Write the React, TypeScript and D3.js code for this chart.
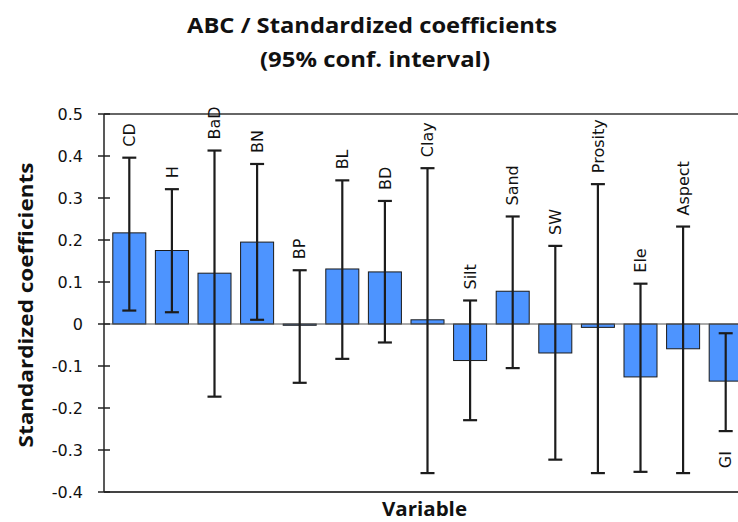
import React from "react";
import * as d3 from "d3";

// variables of the regression
const categories = ["CD", "H", "BaD", "BN", "BP", "BL", "BD", "Clay", "Silt", "Sand", "SW", "Prosity", "Ele", "Aspect", "GI"];
// standardized coefficients
const coefficients = [0.217, 0.175, 0.121, 0.195, -0.003, 0.131, 0.124, 0.01, -0.087, 0.078, -0.069, -0.008, -0.126, -0.059, -0.136];
// 95% confidence interval
const lowerBounds = [0.032, 0.028, -0.173, 0.01, -0.14, -0.083, -0.044, -0.355, -0.229, -0.105, -0.323, -0.355, -0.352, -0.355, -0.255];
const upperBounds = [0.396, 0.321, 0.413, 0.381, 0.128, 0.342, 0.293, 0.371, 0.056, 0.256, 0.186, 0.333, 0.096, 0.232, -0.022];
const yTicks = [0.5, 0.4, 0.3, 0.2, 0.1, 0, -0.1, -0.2, -0.3, -0.4];
const yTickLabels = ["0.5", "0.4", "0.3", "0.2", "0.1", "0", "-0.1", "-0.2", "-0.3", "-0.4"];

const W = 738;
const H = 522;
const margin = { top: 114, right: -9, bottom: 30, left: 104 };
const tickFont = "'DejaVu Sans', Verdana, sans-serif";
const titleFont = "'Open Sans', 'Noto Sans', sans-serif";

export default function App() {
  const x = d3
    .scaleBand()
    .domain(categories)
    .range([margin.left + 4, W - margin.right])
    .paddingInner(0.225)
    .paddingOuter(0.1125);
  const y = d3
    .scaleLinear()
    .domain([-0.4, 0.5])
    .range([H - margin.bottom, margin.top]);

  const x0 = margin.left;
  const x1 = W;
  const cap = 7;
  const gap = 11;

  return (
    <div style={{ position: "fixed", left: 0, top: 0 }}>
      <svg width={W} height={H} style={{ display: "block", background: "#fff" }}>
        {/* title */}
        <text x={372} y={33} textAnchor="middle" fontFamily={titleFont} fontWeight="bold" fontSize={22}
          textLength={370} lengthAdjust="spacingAndGlyphs" fill="#111">
          ABC / Standardized coefficients
        </text>
        <text x={375} y={67} textAnchor="middle" fontFamily={titleFont} fontWeight="bold" fontSize={22}
          textLength={230} lengthAdjust="spacingAndGlyphs" fill="#111">
          (95% conf. interval)
        </text>

        {/* plot frame */}
        <line x1={x0} x2={x1} y1={y(0.5)} y2={y(0.5)} stroke="#333" strokeWidth={1.5} />
        <line x1={x0} x2={x1} y1={y(-0.4)} y2={y(-0.4)} stroke="#444" strokeWidth={2} />

        {/* bars */}
        {categories.map((c, i) => {
          const v = coefficients[i];
          return (
            <rect key={c} x={x(c)} width={x.bandwidth()}
              y={Math.min(y(v), y(0))} height={Math.abs(y(v) - y(0))}
              fill="#4d94ff" stroke="#1a1a1a" strokeWidth={1} />
          );
        })}

        {/* zero line */}
        <line x1={x0} x2={x1} y1={y(0)} y2={y(0)} stroke="#555" strokeWidth={1.2} />

        {/* error bars */}
        {categories.map((c, i) => {
          const cx = (x(c) as number) + x.bandwidth() / 2;
          const lo = y(lowerBounds[i]);
          const hi = y(upperBounds[i]);
          return (
            <g key={c} stroke="#1c1c1c" strokeWidth={2.2}>
              <line x1={cx} x2={cx} y1={lo} y2={hi} />
              <line x1={cx - cap} x2={cx + cap} y1={lo} y2={lo} />
              <line x1={cx - cap} x2={cx + cap} y1={hi} y2={hi} />
            </g>
          );
        })}

        {/* category labels */}
        {categories.map((c, i) => {
          const cx = (x(c) as number) + x.bandwidth() / 2;
          const below = upperBounds[i] < 0;
          const ly = below ? y(lowerBounds[i]) + 20 : y(upperBounds[i]) - gap;
          return (
            <text key={c} transform={`translate(${cx},${ly}) rotate(-90)`} dy="0.36em"
              textAnchor={below ? "end" : "start"} fontFamily={tickFont} fontSize={16} fill="#111">
              {c}
            </text>
          );
        })}

        {/* y axis */}
        <line x1={x0} x2={x0} y1={y(0.5)} y2={y(-0.4)} stroke="#222" strokeWidth={1.5} />
        {yTicks.map((t, i) => (
          <g key={t}>
            <line x1={x0 - 6} x2={x0 + 6} y1={y(t)} y2={y(t)} stroke="#222" strokeWidth={1.5} />
            <text x={83} y={y(t)} dy="0.36em" textAnchor="end" fontFamily={tickFont} fontSize={16} fill="#111">
              {yTickLabels[i]}
            </text>
          </g>
        ))}

        {/* axis titles */}
        <text transform={`translate(33,305) rotate(-90)`} textAnchor="middle" fontFamily={titleFont}
          fontWeight="bold" fontSize={20} textLength={285} lengthAdjust="spacingAndGlyphs" fill="#111">
          Standardized coefficients
        </text>
        <text x={424.5} y={516} textAnchor="middle" fontFamily={titleFont} fontWeight="bold" fontSize={19}
          textLength={85} lengthAdjust="spacingAndGlyphs" fill="#111">
          Variable
        </text>
      </svg>
    </div>
  );
}
